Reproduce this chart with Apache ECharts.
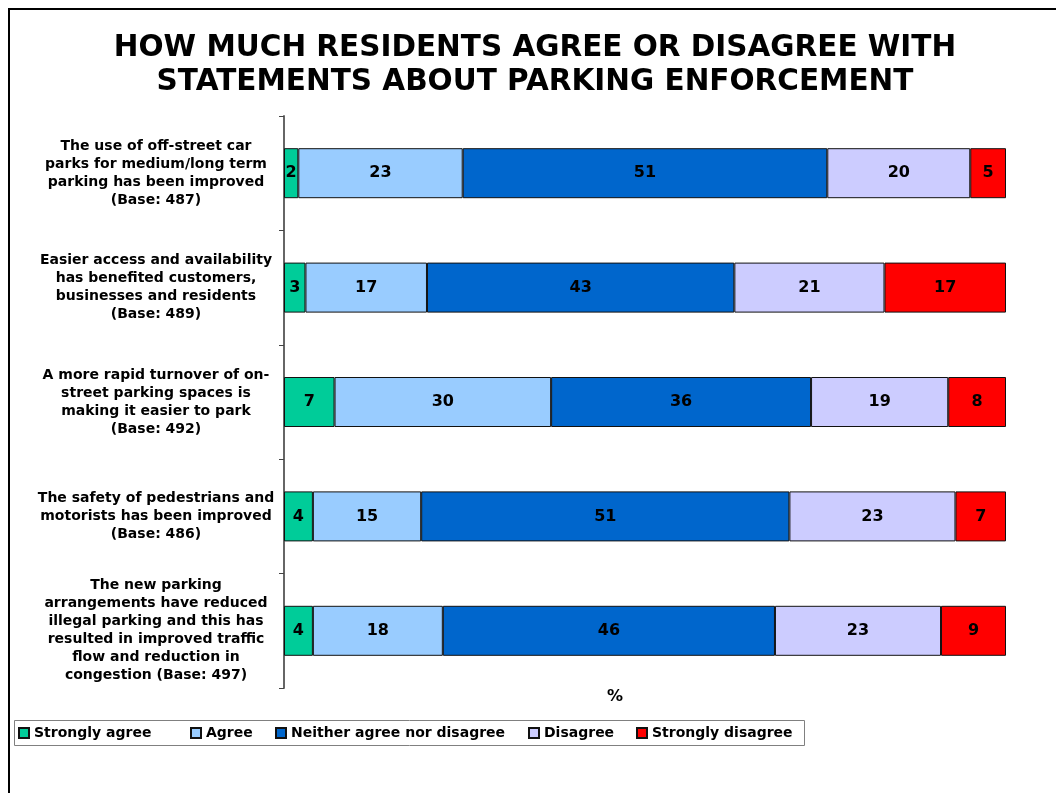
<!DOCTYPE html>
<html><head><meta charset="utf-8">
<script src="https://cdn.jsdelivr.net/npm/echarts@6/dist/echarts.min.js"></script>
<style>html,body{margin:0;padding:0;background:#fff}#c{width:1056px;height:793px}</style>
</head><body><div id="c"></div>
<script>
const titleText = 'HOW MUCH RESIDENTS AGREE OR DISAGREE WITH\nSTATEMENTS ABOUT PARKING ENFORCEMENT';
const categories = [
  'The use of off-street car\nparks for medium/long term\nparking has been improved\n(Base: 487)',
  'Easier access and availability\nhas benefited customers,\nbusinesses and residents\n(Base: 489)',
  'A more rapid turnover of on-\nstreet parking spaces is\nmaking it easier to park\n(Base: 492)',
  'The safety of pedestrians and\nmotorists has been improved\n(Base: 486)',
  'The new parking\narrangements have reduced\nillegal parking and this has\nresulted in improved traffic\nflow and reduction in\ncongestion (Base: 497)'
];
const seriesNames = ['Strongly agree', 'Agree', 'Neither agree nor disagree', 'Disagree', 'Strongly disagree'];
const stronglyAgree    = [2, 3, 7, 4, 4];
const agree            = [23, 17, 30, 15, 18];
const neither          = [51, 43, 36, 51, 46];
const disagree         = [20, 21, 19, 23, 23];
const stronglyDisagree = [5, 17, 8, 7, 9];
const axisName = '%';

const allValues = [stronglyAgree, agree, neither, disagree, stronglyDisagree];
const colors = ['#00CC99', '#99CCFF', '#0066CC', '#CCCCFF', '#FF0000'];
const rowSums = categories.map((_, r) => allValues.reduce((s, arr) => s + arr[r], 0));
const FONT = 'DejaVu Sans';

const series = allValues.map((arr, i) => ({
  name: seriesNames[i],
  type: 'bar',
  stack: 'total',
  barWidth: 50,
  itemStyle: { color: colors[i], borderColor: '#111', borderWidth: 1 },
  label: {
    show: true, position: 'inside', color: '#000',
    fontFamily: FONT, fontWeight: 'bold', fontSize: 16,
    formatter: p => String(arr[p.dataIndex])
  },
  data: arr.map((v, r) => v / rowSums[r] * 100)
}));

const legendX = [18, 190, 275, 528, 636];
const legends = seriesNames.map((n, i) => ({
  data: [n], left: legendX[i], top: 726, padding: 0,
  itemWidth: 10, itemHeight: 10, icon: 'rect',
  textStyle: { fontFamily: FONT, fontWeight: 'bold', fontSize: 14, color: '#000' }
}));

const chart = echarts.init(document.getElementById('c'), null, { renderer: 'canvas' });
chart.setOption({
  animation: false,
  backgroundColor: '#fff',
  title: {
    text: titleText, left: 530, top: 26, textAlign: 'center',
    textStyle: { fontFamily: FONT, fontWeight: 'bold', fontSize: 29.5, lineHeight: 34, color: '#000' }
  },
  legend: legends,
  grid: { left: 284, right: 50, top: 116, bottom: 105, containLabel: false },
  xAxis: {
    type: 'value', min: 0, max: 100,
    axisLine: { show: false }, axisTick: { show: false }, axisLabel: { show: false }, splitLine: { show: false },
    name: axisName, nameLocation: 'middle', nameGap: 1,
    nameTextStyle: { fontFamily: FONT, fontWeight: 'bold', fontSize: 16, color: '#000', padding: [0, 60, 0, 0] }
  },
  yAxis: {
    type: 'category', inverse: true, data: categories,
    axisLine: { show: true, lineStyle: { color: '#666', width: 2 } },
    axisTick: { show: true, length: 5, lineStyle: { color: '#444' } },
    axisLabel: {
      align: 'center', margin: 128, color: '#000',
      fontFamily: FONT, fontWeight: 'bold', fontSize: 14, lineHeight: 18
    }
  },
  graphic: [
    { type: 'line', shape: { x1: 8, y1: 9, x2: 1056, y2: 9 }, style: { stroke: '#000', lineWidth: 2 } },
    { type: 'line', shape: { x1: 9, y1: 8, x2: 9, y2: 793 }, style: { stroke: '#000', lineWidth: 2 } },
    { type: 'rect', shape: { x: 14.5, y: 720.5, width: 790, height: 25 }, style: { fill: 'none', stroke: '#808080', lineWidth: 1 }, z: -1 }
  ],
  series
});
</script></body></html>
